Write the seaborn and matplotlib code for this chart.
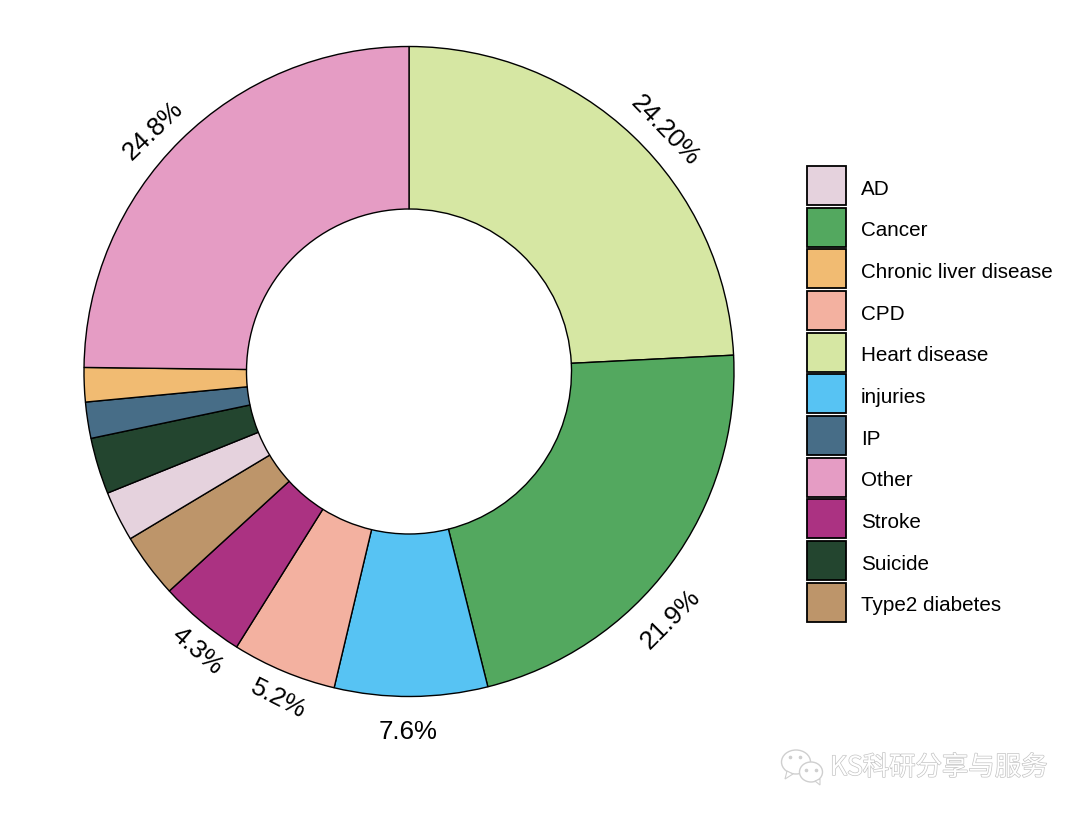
import matplotlib
matplotlib.use('Agg')
import matplotlib.pyplot as plt
import matplotlib.patheffects as pe
from matplotlib.patches import Patch, Ellipse, Polygon
import numpy as np
import seaborn as sns

# slices, clockwise from 12 o'clock
causes = ['Heart disease', 'Cancer', 'injuries', 'CPD', 'Stroke', 'Type2 diabetes',
          'AD', 'Suicide', 'IP', 'Chronic liver disease', 'Other']
shares = [24.2, 21.9, 7.6, 5.2, 4.3, 3.2, 2.5, 2.8, 1.8, 1.7, 24.8]
pct_labels = ['24.20%', '21.9%', '7.6%', '5.2%', '4.3%', '24.8%']
legend_order = ['AD', 'Cancer', 'Chronic liver disease', 'CPD', 'Heart disease', 'injuries',
                'IP', 'Other', 'Stroke', 'Suicide', 'Type2 diabetes']
colors = {
    'AD': '#E5D2DD', 'Cancer': '#53A85F', 'Chronic liver disease': '#F1BB72',
    'CPD': '#F3B1A0', 'Heart disease': '#D6E7A3', 'injuries': '#57C3F3',
    'IP': '#476D87', 'Other': '#E59CC4', 'Stroke': '#AB3282',
    'Suicide': '#23452F', 'Type2 diabetes': '#BD956A',
}
# label placement, set by hand: clock angle, distance from centre, text rotation
label_ang = [46.7, 133.4, 180.2, 201.8, 217.2, 313.2]
label_dist = [1.082, 1.11, 1.11, 1.085, 1.08, 1.082]
label_rot = [-46, 45, 0, -27, -41, 44]

sns.set_theme(style='white')
plt.rcParams['font.family'] = ['Liberation Sans', 'DejaVu Sans']

W, H = 1080, 815
fig = plt.figure(figsize=(W/100, H/100), dpi=100)
fig.patch.set_facecolor('white')

# donut
cx, cy, r = 409, 371.5, 325
ax = fig.add_axes([(cx-r)/W, 1-(cy+r)/H, 2*r/W, 2*r/H])
pal = sns.color_palette([colors[c] for c in causes])
ax.pie(shares, colors=pal, startangle=90, counterclock=False, radius=1,
       wedgeprops=dict(width=0.5, edgecolor='black', linewidth=1.0))
ax.set_xlim(-1, 1)
ax.set_ylim(-1, 1)
ax.set_aspect('equal')
ax.axis('off')

for lab, ang, dist, rot in zip(pct_labels, label_ang, label_dist, label_rot):
    rad = np.deg2rad(ang)
    ax.text(dist*np.sin(rad), dist*np.cos(rad), lab, rotation=rot, rotation_mode='anchor',
            ha='center', va='center', fontsize=18.6, color='black', clip_on=False)

# legend
handles = [Patch(facecolor=colors[c], edgecolor='black', linewidth=1.3) for c in legend_order]
leg = fig.legend(handles, legend_order, loc='upper left', bbox_to_anchor=(807/W, 1-166/H),
                 bbox_transform=fig.transFigure, frameon=False, fontsize=14.9, borderpad=0,
                 borderaxespad=0, handlelength=1.88, handleheight=2.52, labelspacing=0.13,
                 handletextpad=0.72, labelcolor='black')
# text sits a little lower than the default baseline
for t in leg.get_texts():
    t.set_position((0, -3))

# watermark
over = fig.add_axes([0, 0, 1, 1], facecolor='none')
over.set_xlim(0, W)
over.set_ylim(H, 0)
over.axis('off')
wm = '#cfcfcf'
for (x, y, w, h) in [(796, 762, 29, 24), (811, 772, 23, 20)]:
    over.add_patch(Ellipse((x, y), w, h, facecolor='white', edgecolor=wm, linewidth=1))
over.add_patch(Polygon([[787, 771], [785, 779], [793, 774]], facecolor='white', edgecolor=wm, linewidth=0.8))
over.add_patch(Polygon([[815, 781], [820, 785], [820, 779]], facecolor='white', edgecolor=wm, linewidth=0.8))
over.plot([790, 800, 806, 816], [757, 757, 770, 770], ls='none', marker='o', ms=1.6, color=wm)
over.text(830, 767.5, 'KS科研分享与服务', family=['Noto Sans CJK SC', 'DejaVu Sans'], fontsize=19,
          ha='left', va='center', color='white',
          path_effects=[pe.withStroke(linewidth=1.0, foreground='#c4c4c4')])

fig.savefig('out.png', dpi=100)
